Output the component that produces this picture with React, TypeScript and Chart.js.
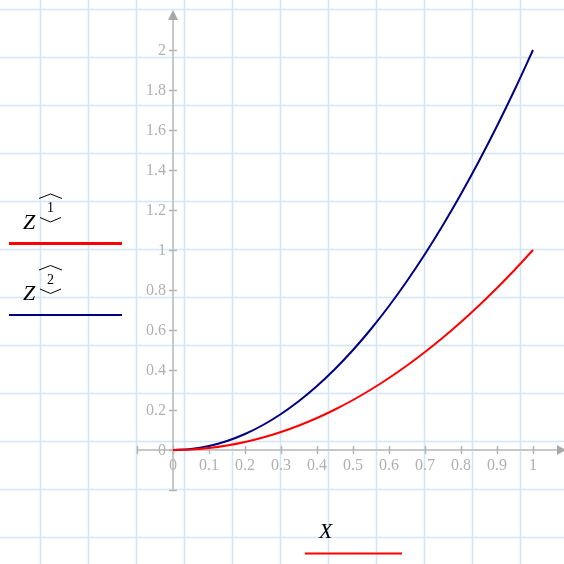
import React, { useEffect, useRef } from "react";
import { Chart, registerables } from "chart.js";

Chart.register(...registerables);

const xValues = [0, 0.05, 0.1, 0.15, 0.2, 0.25, 0.3, 0.35, 0.4, 0.45, 0.5, 0.55, 0.6, 0.65, 0.7, 0.75, 0.8, 0.85, 0.9, 0.95, 1];
const z1Values = [0, 0.0025, 0.01, 0.0225, 0.04, 0.0625, 0.09, 0.1225, 0.16, 0.2025, 0.25, 0.3025, 0.36, 0.4225, 0.49, 0.5625, 0.64, 0.7225, 0.81, 0.9025, 1];
const z2Values = [0, 0.005, 0.02, 0.045, 0.08, 0.125, 0.18, 0.245, 0.32, 0.405, 0.5, 0.605, 0.72, 0.845, 0.98, 1.125, 1.28, 1.445, 1.62, 1.805, 2];
const xTickValues = [0, 0.1, 0.2, 0.3, 0.4, 0.5, 0.6, 0.7, 0.8, 0.9, 1];
const xTickLabels = ["0", "0.1", "0.2", "0.3", "0.4", "0.5", "0.6", "0.7", "0.8", "0.9", "1"];
const yTickValues = [0, 0.2, 0.4, 0.6, 0.8, 1, 1.2, 1.4, 1.6, 1.8, 2];
const yTickLabels = ["0", "0.2", "0.4", "0.6", "0.8", "1", "1.2", "1.4", "1.6", "1.8", "2"];
const seriesNames = ["1", "2"];
const seriesColors = ["#ff0000", "#000080"];
const xAxisName = "X";

const W = 564;
const H = 564;

const worksheetPlugin = {
  id: "worksheet",
  beforeDraw(chart: any) {
    const ctx = chart.ctx;
    ctx.save();
    ctx.fillStyle = "#ffffff";
    ctx.fillRect(0, 0, W, H);
    ctx.strokeStyle = "#d3e5f7";
    ctx.lineWidth = 1.6;
    for (let x = 40.5; x < W; x += 48) {
      ctx.beginPath();
      ctx.moveTo(x, 0);
      ctx.lineTo(x, H);
      ctx.stroke();
    }
    for (let y = 9.5; y < H; y += 48) {
      ctx.beginPath();
      ctx.moveTo(0, y);
      ctx.lineTo(W, y);
      ctx.stroke();
    }
    ctx.restore();
  },
  beforeDatasetsDraw(chart: any) {
    const ctx = chart.ctx;
    const xs = chart.scales.x;
    const ys = chart.scales.y;
    const x0 = Math.round(xs.getPixelForValue(0));
    const y0 = Math.round(ys.getPixelForValue(0));
    const left = xs.getPixelForValue(-0.1);
    const bottom = ys.getPixelForValue(-0.2);
    ctx.save();
    ctx.strokeStyle = "#c8c8c8";
    ctx.lineWidth = 2;
    ctx.beginPath();
    ctx.moveTo(left, y0);
    ctx.lineTo(W - 4, y0);
    ctx.stroke();
    ctx.beginPath();
    ctx.moveTo(x0, bottom);
    ctx.lineTo(x0, 16);
    ctx.stroke();
    ctx.fillStyle = "#a8a8a8";
    ctx.beginPath();
    ctx.moveTo(x0, 10);
    ctx.lineTo(x0 - 5, 20);
    ctx.lineTo(x0 + 5, 20);
    ctx.closePath();
    ctx.fill();
    ctx.beginPath();
    ctx.moveTo(566, y0);
    ctx.lineTo(557, y0 - 5);
    ctx.lineTo(557, y0 + 5);
    ctx.closePath();
    ctx.fill();
    ctx.strokeStyle = "#b4b4b4";
    ctx.lineWidth = 1.5;
    const xt = [-0.1, ...xTickValues];
    xt.forEach((v) => {
      const px = Math.round(xs.getPixelForValue(v)) + 0.5;
      ctx.beginPath();
      ctx.moveTo(px, y0 - 4);
      ctx.lineTo(px, y0 + 4);
      ctx.stroke();
    });
    const yt = [-0.2, ...yTickValues];
    yt.forEach((v) => {
      const py = Math.round(ys.getPixelForValue(v)) + 0.5;
      ctx.beginPath();
      ctx.moveTo(x0 - 4, py);
      ctx.lineTo(x0 + 4, py);
      ctx.stroke();
    });
    ctx.fillStyle = "#b0b0b0";
    ctx.font = "16px 'Liberation Serif', serif";
    ctx.textAlign = "center";
    ctx.textBaseline = "middle";
    xTickValues.forEach((v, i) => {
      ctx.fillText(xTickLabels[i], xs.getPixelForValue(v), y0 + 16);
    });
    ctx.textAlign = "right";
    yTickValues.forEach((v, i) => {
      ctx.fillText(yTickLabels[i], x0 - 7, ys.getPixelForValue(v) + 0.5);
    });
    ctx.restore();
  },
  afterDraw(chart: any) {
    const ctx = chart.ctx;
    ctx.save();
    const drawLegend = (name: string, color: string, lw: number, dy: number) => {
      ctx.fillStyle = "#000000";
      ctx.font = "italic 22px 'Liberation Serif', serif";
      ctx.textAlign = "left";
      ctx.textBaseline = "alphabetic";
      ctx.fillText("Z", 23, 228.5 + dy);
      ctx.font = "14px 'Liberation Serif', serif";
      ctx.textAlign = "center";
      ctx.fillText(name, 50.5, 212 + dy);
      ctx.strokeStyle = "#000000";
      ctx.lineWidth = 1;
      ctx.beginPath();
      ctx.moveTo(39, 198.5 + dy);
      ctx.lineTo(50.5, 194 + dy);
      ctx.lineTo(62, 198.5 + dy);
      ctx.stroke();
      ctx.beginPath();
      ctx.moveTo(40, 217.5 + dy);
      ctx.lineTo(50.5, 222 + dy);
      ctx.lineTo(61, 217.5 + dy);
      ctx.stroke();
      ctx.strokeStyle = color;
      ctx.lineWidth = lw;
      ctx.beginPath();
      ctx.moveTo(9, 243.5 + dy);
      ctx.lineTo(122, 243.5 + dy);
      ctx.stroke();
    };
    drawLegend(seriesNames[0], seriesColors[0], 3, 0);
    drawLegend(seriesNames[1], seriesColors[1], 2, 71.5);
    ctx.fillStyle = "#000000";
    ctx.font = "italic 22px 'Liberation Serif', serif";
    ctx.textAlign = "left";
    ctx.textBaseline = "alphabetic";
    ctx.fillText(xAxisName, 319, 538);
    ctx.strokeStyle = seriesColors[0];
    ctx.lineWidth = 2;
    ctx.beginPath();
    ctx.moveTo(305, 553.5);
    ctx.lineTo(402, 553.5);
    ctx.stroke();
    ctx.restore();
  },
};

export default function App() {
  const ref = useRef<HTMLCanvasElement | null>(null);
  useEffect(() => {
    if (!ref.current) return;
    const chart = new Chart(ref.current, {
      type: "line",
      data: {
        datasets: [
          {
            label: "Z1",
            data: xValues.map((x, i) => ({ x, y: z1Values[i] })),
            borderColor: seriesColors[0],
            borderWidth: 2,
            pointRadius: 0,
            cubicInterpolationMode: "monotone",
            fill: false,
          },
          {
            label: "Z2",
            data: xValues.map((x, i) => ({ x, y: z2Values[i] })),
            borderColor: seriesColors[1],
            borderWidth: 2,
            pointRadius: 0,
            cubicInterpolationMode: "monotone",
            fill: false,
          },
        ],
      },
      options: {
        responsive: false,
        animation: false,
        devicePixelRatio: 1,
        layout: { padding: { left: 137, right: 13, top: 10, bottom: 74 } },
        scales: {
          x: { type: "linear", min: -0.1, max: 1.05, display: false },
          y: { type: "linear", min: -0.2, max: 2.2, display: false },
        },
        plugins: { legend: { display: false }, tooltip: { enabled: false } },
      },
      plugins: [worksheetPlugin],
    } as any);
    return () => chart.destroy();
  }, []);
  return (
    <div style={{ position: "absolute", left: 0, top: 0, width: W, height: H }}>
      <canvas ref={ref} width={W} height={H} style={{ width: W, height: H, display: "block" }} />
    </div>
  );
}
